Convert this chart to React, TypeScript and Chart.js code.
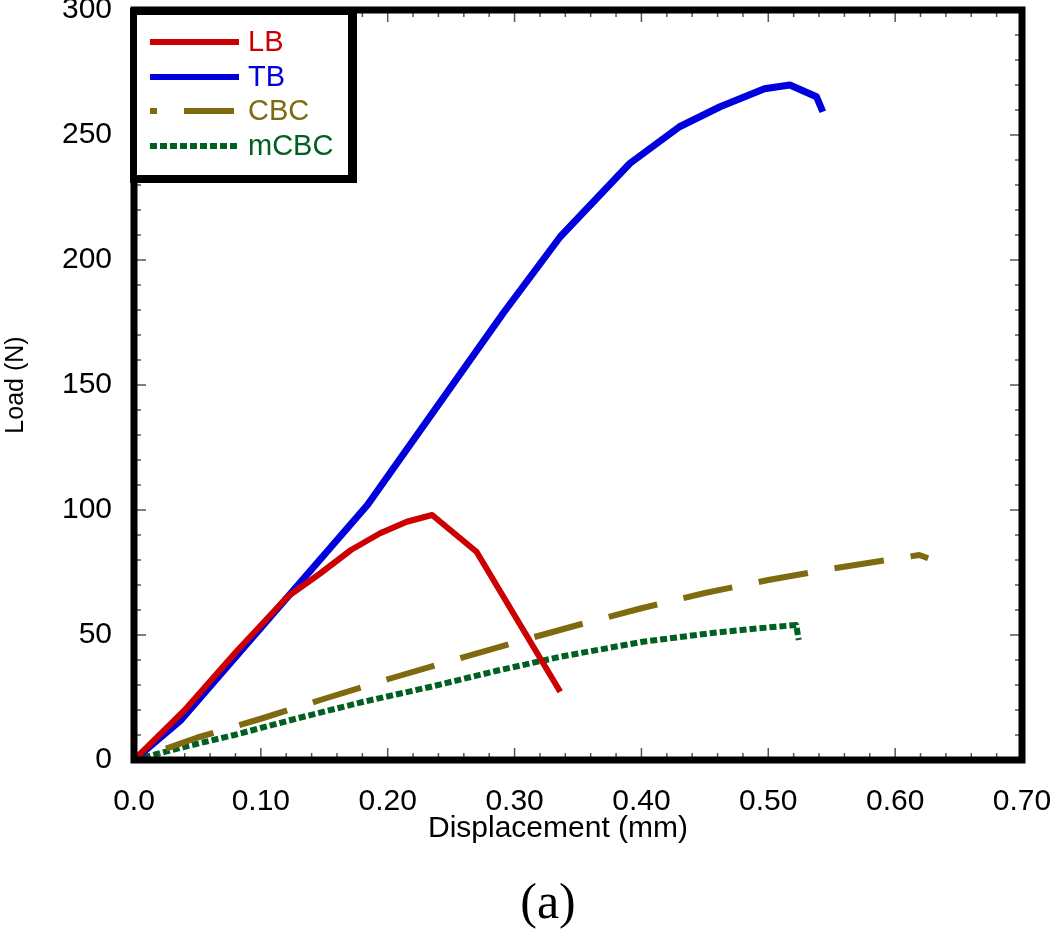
import React, { useEffect, useRef } from "react";
import { Chart, registerables } from "chart.js";

Chart.register(...registerables);

// ---- Data ----
const lbX = [0, 0.04, 0.08, 0.121, 0.147, 0.171, 0.194, 0.215, 0.235, 0.27, 0.336];
const lbY = [0, 20, 43, 65.3, 74.7, 84, 90.7, 95.3, 98, 83.3, 27.3];

const tbX = [0, 0.037, 0.184, 0.291, 0.336, 0.391, 0.43, 0.462, 0.497, 0.517, 0.538, 0.543];
const tbY = [0, 16, 102, 178.7, 209.3, 238.7, 253.3, 261.3, 268.5, 270, 265.3, 259.3];

const cbcX = [0, 0.05, 0.1, 0.15, 0.2, 0.25, 0.3, 0.35, 0.4, 0.45, 0.5, 0.55, 0.6, 0.619, 0.626];
const cbcY = [0, 9, 16.5, 24.5, 32.3, 39.7, 47, 54, 60.7, 66.8, 72, 76.5, 80.5, 82, 80.7];

const mcbcX = [0, 0.04, 0.079, 0.129, 0.181, 0.234, 0.286, 0.336, 0.401, 0.454, 0.493, 0.522, 0.524];
const mcbcY = [0, 5.3, 10, 16.7, 23.3, 29.3, 35.7, 41.3, 47.3, 50.7, 52.7, 54, 48];

const seriesNames = ["LB", "TB", "CBC", "mCBC"];
const seriesColors = ["#CC0000", "#0000DD", "#7F6A10", "#006022"];

const xTickLabels = ["0.0", "0.10", "0.20", "0.30", "0.40", "0.50", "0.60", "0.70"];
const yTickLabels = ["0", "50", "100", "150", "200", "250", "300"];

const xTitle = "Displacement (mm)";
const yTitle = "Load (N)";
const caption = "(a)";

const FONT = "'Liberation Sans', Arial, sans-serif";

function pts(xs: number[], ys: number[]) {
  return xs.map((x, i) => ({ x, y: ys[i] }));
}

const framePlugin = {
  id: "framePlugin",
  afterDraw(chart: any) {
    const ctx = chart.ctx;
    const { left, right, top, bottom } = chart.chartArea;
    const xs = chart.scales.x;
    const ys = chart.scales.y;
    ctx.save();
    // inward ticks
    ctx.strokeStyle = "#555";
    ctx.lineWidth = 1.5;
    for (let i = 0; i <= 35; i++) {
      const v = i * 0.02;
      const px = xs.getPixelForValue(v);
      const len = i % 5 === 0 ? 12 : 7;
      ctx.beginPath();
      ctx.moveTo(px, bottom);
      ctx.lineTo(px, bottom - len);
      ctx.moveTo(px, top);
      ctx.lineTo(px, top + len);
      ctx.stroke();
    }
    for (let i = 0; i <= 30; i++) {
      const v = i * 10;
      const py = ys.getPixelForValue(v);
      const len = i % 5 === 0 ? 12 : 7;
      ctx.beginPath();
      ctx.moveTo(left, py);
      ctx.lineTo(left + len, py);
      ctx.moveTo(right, py);
      ctx.lineTo(right - len, py);
      ctx.stroke();
    }
    // thick frame
    ctx.strokeStyle = "#000";
    ctx.lineWidth = 7;
    ctx.strokeRect(left, top, right - left, bottom - top);

    // legend box
    ctx.fillStyle = "#000";
    ctx.fillRect(130, 8, 227, 175);
    ctx.fillStyle = "#fff";
    ctx.fillRect(137, 15, 211, 160);

    const rowsY = [42, 77, 111, 146];
    const dashes: number[][] = [[], [], [50, 27], [7, 3]];
    const offsets = [0, 0, 43, 0];
    for (let i = 0; i < 4; i++) {
      ctx.strokeStyle = seriesColors[i];
      ctx.lineWidth = 6;
      ctx.lineCap = "butt";
      ctx.setLineDash(dashes[i]);
      ctx.lineDashOffset = offsets[i];
      ctx.beginPath();
      ctx.moveTo(150, rowsY[i]);
      ctx.lineTo(239, rowsY[i]);
      ctx.stroke();
      ctx.setLineDash([]);
      ctx.lineDashOffset = 0;
      ctx.fillStyle = seriesColors[i];
      ctx.font = `29px ${FONT}`;
      ctx.textAlign = "left";
      ctx.textBaseline = "middle";
      ctx.fillText(seriesNames[i], 248, rowsY[i] + 1);
    }

    // axis titles and caption
    ctx.fillStyle = "#000";
    ctx.font = `30px ${FONT}`;
    ctx.textAlign = "center";
    ctx.textBaseline = "middle";
    ctx.fillText(xTitle, 558, 829);
    ctx.save();
    ctx.translate(16, 385);
    ctx.rotate(-Math.PI / 2);
    ctx.font = `25px ${FONT}`;
    ctx.fillText(yTitle, 0, 0);
    ctx.restore();
    ctx.font = "50px 'Liberation Serif', 'Times New Roman', serif";
    ctx.fillText(caption, 548, 905);
    ctx.restore();
  },
};

export default function App() {
  const ref = useRef<HTMLCanvasElement | null>(null);
  useEffect(() => {
    if (!ref.current) return;
    const dashesDs: number[][] = [[], [], [50, 27], [7, 3]];
    const dashOffsets = [0, 0, 43, 0];
    const data = [pts(lbX, lbY), pts(tbX, tbY), pts(cbcX, cbcY), pts(mcbcX, mcbcY)];
    const widths = [6, 7, 6, 6];
    const chart = new Chart(ref.current, {
      type: "line",
      data: {
        datasets: data.map((d, i) => ({
          label: seriesNames[i],
          data: d,
          borderColor: seriesColors[i],
          backgroundColor: seriesColors[i],
          borderWidth: widths[i],
          borderDash: dashesDs[i],
          borderDashOffset: dashOffsets[i],
          borderCapStyle: "butt",
          borderJoinStyle: "round",
          pointRadius: 0,
          tension: 0,
          fill: false,
        })),
      },
      options: {
        responsive: false,
        animation: false,
        devicePixelRatio: 1,
        layout: { padding: { left: 0, right: 28, top: 10, bottom: 0 } },
        plugins: { legend: { display: false }, title: { display: false }, tooltip: { enabled: false } },
        scales: {
          x: {
            type: "linear",
            min: 0,
            max: 0.7,
            ticks: {
              stepSize: 0.1,
              color: "#000",
              font: { size: 30, family: FONT },
              padding: 24,
              maxRotation: 0,
              callback: (v: any) => {
                const idx = Math.round(Number(v) * 10);
                return xTickLabels[idx] ?? "";
              },
            },
            grid: { display: false, drawTicks: false },
            border: { display: false },
            afterFit: (s: any) => {
              s.height = 182;
              s.paddingLeft = 0;
              s.paddingRight = 0;
              s.paddingTop = 0;
              s.paddingBottom = 0;
            },
          },
          y: {
            type: "linear",
            min: 0,
            max: 300,
            ticks: {
              stepSize: 50,
              color: "#000",
              font: { size: 30, family: FONT },
              padding: 22,
              callback: (v: any) => {
                const idx = Math.round(Number(v) / 50);
                return yTickLabels[idx] ?? "";
              },
            },
            grid: { display: false, drawTicks: false },
            border: { display: false },
            afterFit: (s: any) => {
              s.width = 134;
              s.paddingLeft = 0;
              s.paddingRight = 0;
              s.paddingTop = 0;
              s.paddingBottom = 0;
            },
          },
        },
      },
      plugins: [framePlugin],
    } as any);
    return () => chart.destroy();
  }, []);
  return (
    <div style={{ position: "absolute", left: 0, top: 0, width: 1050, height: 942, background: "#fff" }}>
      <canvas ref={ref} width={1050} height={942} />
    </div>
  );
}
